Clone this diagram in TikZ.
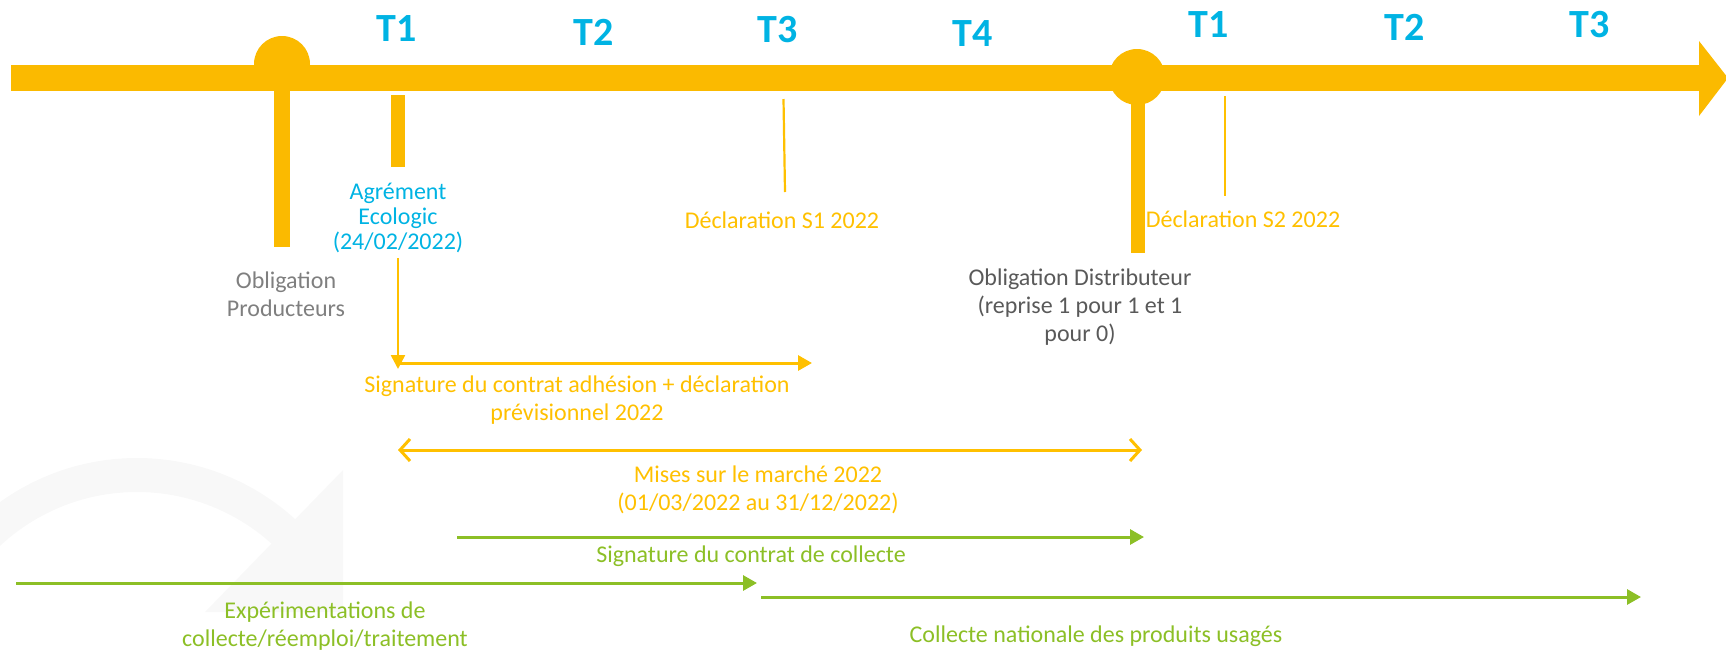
\documentclass[tikz,border=0pt]{standalone}
\usepackage{fontspec}
\setmainfont{Carlito}
\usetikzlibrary{arrows.meta}
\definecolor{gold}{HTML}{FBBA00}
\definecolor{goldtxt}{HTML}{FFC000}
\definecolor{cyanT}{HTML}{00B3E3}
\definecolor{grn}{HTML}{8CBF26}
\definecolor{grayP}{HTML}{7F7F7F}
\definecolor{grayD}{HTML}{595959}
\definecolor{wm}{RGB}{248,248,248}
\begin{document}
\begin{tikzpicture}[x=1pt,y=-1pt,
  txt/.style={inner sep=0pt, align=center, font=\fontsize{24}{28}\selectfont, anchor=base},
  tlabel/.style={inner sep=0pt, font=\fontsize{40}{48}\selectfont\bfseries, text=cyanT, anchor=base},
  dot/.style={circle, fill=gold, minimum size=56pt, inner sep=0pt},
  gtip/.style={-{Triangle[length=14pt,width=15pt]}},
  barbs/.style={{Straight Barb[length=10pt,width=22pt]}-{Straight Barb[length=10pt,width=22pt]}},
  goldarrow/.style={draw=goldtxt, line width=3pt},
  greenarrow/.style={draw=grn, line width=3pt, gtip}
]
\useasboundingbox (0,0) rectangle (1726,649);
\begin{scope}
\clip (0,0) rectangle (1726,649);
% faint watermark
\fill[wm] (137,693) ++(-40:235) arc[start angle=-40,end angle=-180,radius=235]
   -- ++(34,0) arc[start angle=-180,end angle=-40,radius=201] -- cycle;
\fill[wm] (343,470) -- (343,612) -- (205,612) -- cycle;

% main timeline
\coordinate (tl0) at (11,78);
\coordinate (tl1) at (1700,78);
\draw[gold, line width=26pt] (tl0) -- (tl1);
\fill[gold] (1699,41) -- (1728,78) -- (1699,116) -- cycle;

% milestones
\node[dot] (op) at (282,64) {};
\fill[gold] (274,78) rectangle (290,247);
\node[dot] (od) at (1137,77) {};
\fill[gold] (1131,78) rectangle (1145,253);
\fill[gold] (391,95) rectangle (405,167);
\coordinate (s1a) at (783.5,99);
\coordinate (s1b) at (785,192);
\draw[goldtxt, line width=2.2pt] (s1a) -- (s1b);
\coordinate (s2a) at (1225,96);
\coordinate (s2b) at (1225,196);
\draw[goldtxt, line width=2.2pt] (s2a) -- (s2b);
\end{scope}

% quarter labels
\node[tlabel] (t1) at (397,41.7) {T1};
\node[tlabel] (t2) at (594,45) {T2};
\node[tlabel] (t3) at (778,42) {T3};
\node[tlabel] (t4) at (973,46) {T4};
\node[tlabel] (t1b) at (1209,37.3) {T1};
\node[tlabel] (t2b) at (1405,40.7) {T2};
\node[tlabel] (t3b) at (1590,37.3) {T3};

% texts (base anchor = baseline of the last line)
\node[txt, text=cyanT, font=\fontsize{24}{25}\selectfont] (agr) at (398,249.5) {Agrément\\Ecologic\\(24/02/2022)};
\node[txt, text=grayP] (oblp) at (286,316.5) {Obligation\\Producteurs};
\node[txt, text=grayD] (obld) at (1080,341) {Obligation Distributeur\\(reprise 1 pour 1 et 1\\pour 0)};
\node[txt, text=goldtxt] (decl1) at (782,228) {Déclaration S1 2022};
\node[txt, text=goldtxt] (decl2) at (1243,227.7) {Déclaration S2 2022};
\node[txt, text=goldtxt] (sig) at (577,420.5) {Signature du contrat adhésion + déclaration\\prévisionnel 2022};
\node[txt, text=goldtxt] (mises) at (758,510) {Mises sur le marché 2022\\(01/03/2022 au 31/12/2022)};
\node[txt, text=grn] (sigc) at (751,562.7) {Signature du contrat de collecte};
\node[txt, text=grn] (exp) at (325,646.7) {Expérimentations de\\collecte/réemploi/traitement};
\node[txt, text=grn] (coll) at (1096,642.7) {Collecte nationale des produits usagés};

% connectors
\coordinate (a0) at (398,258);
\coordinate (a1) at (398,369);
\draw[goldtxt, line width=2.5pt, -{Triangle[length=14pt,width=14pt]}] (a0) -- (a1);
\coordinate (b0) at (398,363);
\coordinate (b1) at (812,363);
\draw[goldarrow, -{Triangle[length=14pt,width=15pt]}] (b0) -- (b1);
\coordinate (m0) at (398,450);
\coordinate (m1) at (1142,450);
\draw[goldarrow, barbs] (m0) -- (m1);
\coordinate (c0) at (457,537);
\coordinate (c1) at (1144,537);
\draw[greenarrow] (c0) -- (c1);
\coordinate (e0) at (16,583);
\coordinate (e1) at (757,583);
\draw[greenarrow] (e0) -- (e1);
\coordinate (n0) at (761,597);
\coordinate (n1) at (1641,597);
\draw[greenarrow] (n0) -- (n1);
\end{tikzpicture}
\end{document}
